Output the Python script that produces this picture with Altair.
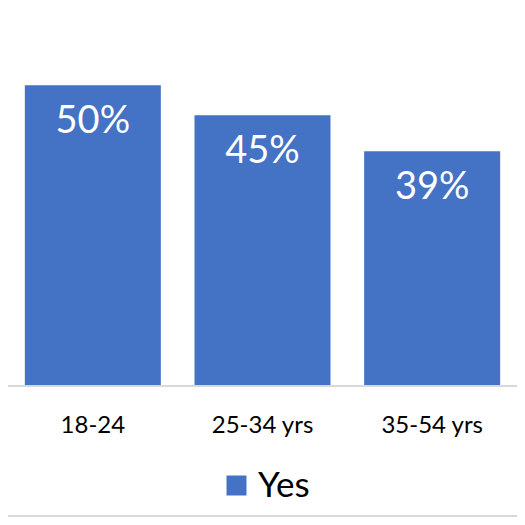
import altair as alt
import pandas as pd

categories = ["18-24", "25-34 yrs", "35-54 yrs"]
values = [50, 45, 39]
labels = ["50%", "45%", "39%"]
series = ["Yes", "Yes", "Yes"]

df = pd.DataFrame({"cat": categories, "val": values, "label": labels, "series": series})

FONT = "Lato"

x = alt.X("cat:N", sort=categories,
          scale=alt.Scale(paddingInner=0.2, paddingOuter=0.1),
          axis=alt.Axis(title=None, labelAngle=0, domain=False, ticks=False, tickSize=0,
                        labelPadding=46, labelBaseline="alphabetic", labelFont=FONT,
                        labelFontSize=24, labelColor="#000000"))
y = alt.Y("val:Q", scale=alt.Scale(domain=[0, 60]), axis=None)

bars = alt.Chart(df).mark_bar(size=136).encode(
    x=x, y=y,
    color=alt.Color("series:N", scale=alt.Scale(range=["#4472C4"]),
                    legend=alt.Legend(title=None, orient="none", legendX=211, legendY=443,
                                      symbolType="square", symbolSize=400, symbolStrokeWidth=0,
                                      labelFont=FONT, labelFontSize=35, labelColor="#000000",
                                      labelOffset=4, symbolOffset=0))
)

text = alt.Chart(df).mark_text(baseline="alphabetic", dy=48, font=FONT, fontSize=38,
                               color="white").encode(
    x=alt.X("cat:N", sort=categories), y="val:Q", text="label:N")

baseline = alt.Chart(df).mark_rule(color="#d9d9d9", strokeWidth=1.5).encode(
    x=alt.value(-2), x2=alt.value(509), y=alt.value(361))

border = alt.Chart(df).mark_rule(color="#d9d9d9", strokeWidth=1.5).encode(
    x=alt.value(-2), x2=alt.value(509), y=alt.value(491))

chart = alt.layer(bars, text, baseline, border).properties(
    width=509, height=361,
    autosize=alt.AutoSizeParams(type="none"),
    padding={"left": 0, "top": 17, "right": 0, "bottom": 131},
).configure_view(stroke=None)

chart.save("out.html", embed_options={"renderer": "svg", "actions": False})
